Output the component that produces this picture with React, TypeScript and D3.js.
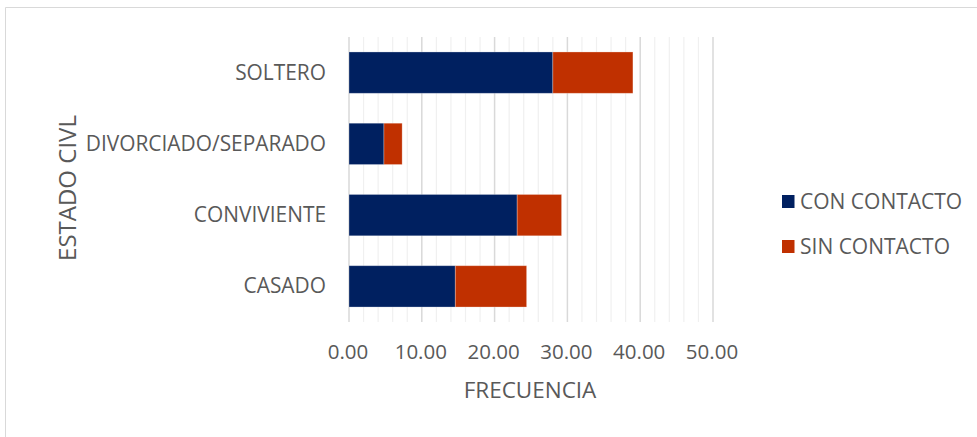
import React from "react";
import * as d3 from "d3";

const categories = ["SOLTERO", "DIVORCIADO/SEPARADO", "CONVIVIENTE", "CASADO"];
const conContacto = [28.0, 4.8, 23.1, 14.6];
const sinContacto = [11.0, 2.5, 6.1, 9.8];
const seriesNames = ["CON CONTACTO", "SIN CONTACTO"];
const seriesColors = ["#002060", "#C03000"];
const majorTicks = [0, 10, 20, 30, 40, 50];
const minorTicks = d3.range(0, 51, 2);

const W = 977;
const H = 437;
const FONT = "'Open Sans', 'DejaVu Sans', sans-serif";

export default function App() {
  const x = d3.scaleLinear().domain([0, 50]).range([349, 713]);
  const y = d3.scaleBand().domain(categories).range([37, 322]).paddingInner(0.42).paddingOuter(0.21);
  const rows = categories.map((c, i) => ({ c, v: [conContacto[i], sinContacto[i]] }));
  const stack = d3.stack<any>().keys(["0", "1"]).value((d, k) => d.v[+k]);
  const stacked = stack(rows);
  return (
    <svg width={W} height={H} style={{ position: "absolute", left: 0, top: 0 }} fontFamily={FONT}>
      <rect x={0} y={0} width={W} height={H} fill="#fff" />
      <path d={`M5.5,${H} V7.5 H${W}`} fill="none" stroke="#d9d9d9" strokeWidth={1} />
      {minorTicks.map((t) => (
        <line key={"m" + t} x1={x(t)} x2={x(t)} y1={37} y2={322} stroke={t % 10 === 0 ? "#d9d9d9" : "#f0f0f0"} strokeWidth={t % 10 === 0 ? 1.5 : 1.2} />
      ))}
      {stacked.map((s, si) =>
        s.map((d, i) => (
          <rect key={si + "-" + i} x={x(d[0])} y={y(categories[i])} width={x(d[1]) - x(d[0])} height={y.bandwidth()} fill={seriesColors[si]} stroke="#ffffff" strokeOpacity={0.35} strokeWidth={0.8} />
        ))
      )}
      {categories.map((c) => (
        <text key={c} x={326} y={(y(c) as number) + y.bandwidth() / 2} dy="0.34em" textAnchor="end" fontSize={20.9} fill="#595959">{c}</text>
      ))}
      {majorTicks.map((t) => (
        <text key={"t" + t} x={x(t) - 1} y={359} textAnchor="middle" fontSize={20.5} fill="#595959">{t.toFixed(2)}</text>
      ))}
      <text x={530} y={398} textAnchor="middle" fontSize={22.5} fill="#595959">FRECUENCIA</text>
      <text transform="translate(76,188) rotate(-90)" textAnchor="middle" fontSize={24} fill="#595959">ESTADO CIVL</text>
      {seriesNames.map((n, i) => (
        <g key={n} transform={`translate(782,${195 + i * 45})`}>
          <rect x={0} y={0} width={12.5} height={13} fill={seriesColors[i]} />
          <text x={18} y={13.5} fontSize={21} fill="#595959">{n}</text>
        </g>
      ))}
    </svg>
  );
}
